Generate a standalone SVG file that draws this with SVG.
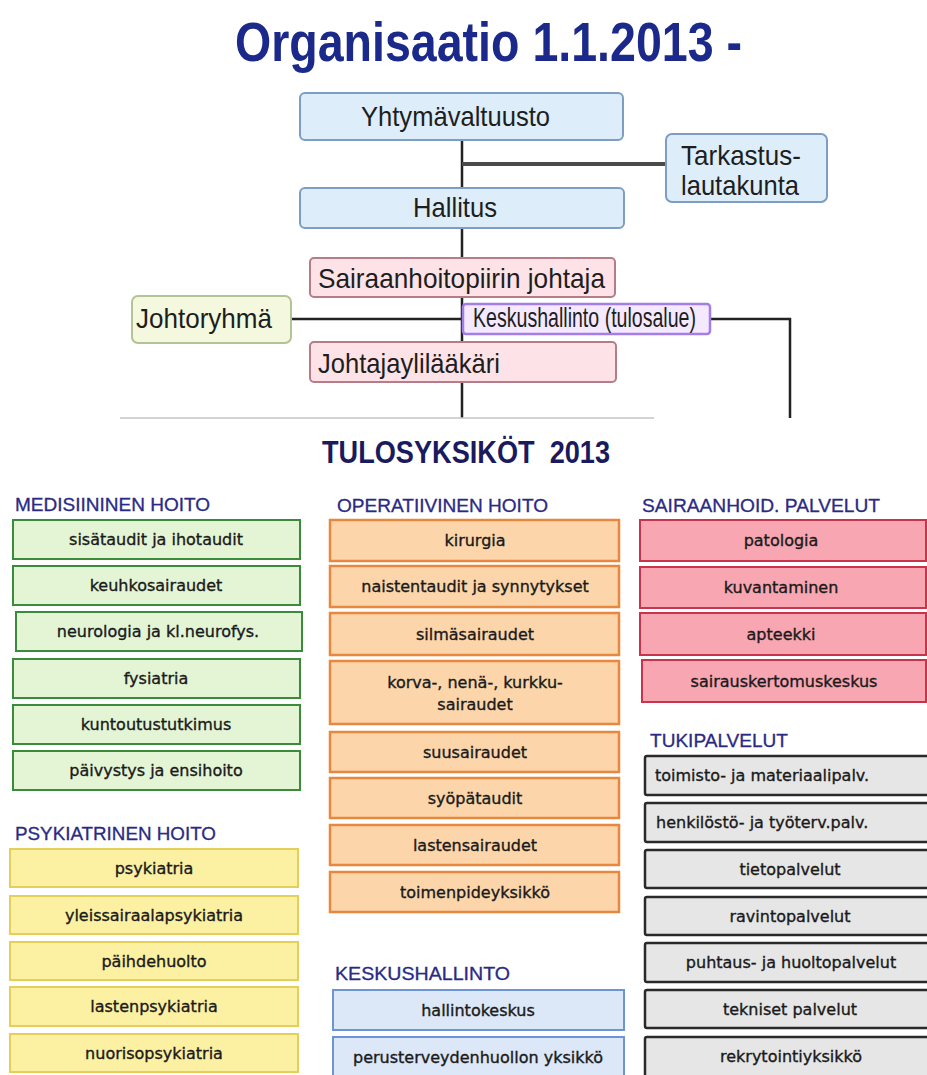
<svg xmlns="http://www.w3.org/2000/svg" width="927" height="1075" viewBox="0 0 927 1075">
<style>
.top{font-family:"Liberation Sans",Arial,sans-serif;font-size:28px;fill:#1e1e1e}
.hdr{font-family:"Liberation Sans",Arial,sans-serif;font-size:18px;fill:#2a2a84;stroke:#2a2a84;stroke-width:0.3}
.lbl{font-family:"DejaVu Sans",Verdana,sans-serif;font-size:16px;fill:#1a1a1a;stroke:#1a1a1a;stroke-width:0.35;text-anchor:middle}
.lbll{font-family:"DejaVu Sans",Verdana,sans-serif;font-size:16px;fill:#1a1a1a;stroke:#1a1a1a;stroke-width:0.35}
.bl{fill:#ddeefa;stroke:#7d9dc2;stroke-width:2}
.pk{fill:#fde3e7;stroke:#b67c88;stroke-width:2}
.gy{fill:#f3f8de;stroke:#b3c396;stroke-width:2}
.pu{fill:#f4e9ff;stroke:#a37ee6;stroke-width:2.5}
.g{fill:#e4f5d6;stroke:#3a8c3a;stroke-width:2}
.y{fill:#fcf0a2;stroke:#e5cf5a;stroke-width:2}
.o{fill:#fcd6aa;stroke:#e8873e;stroke-width:2.5}
.b{fill:#dce7f7;stroke:#6d95d6;stroke-width:2}
.r{fill:#f8a6b1;stroke:#c8334d;stroke-width:2}
.k{fill:#e6e6e6;stroke:#2a2a2a;stroke-width:2.5}
.ln{stroke:#222;stroke-width:2.5;fill:none}
.ttl{font-family:"Liberation Sans",Arial,sans-serif;font-weight:bold}
</style>
<rect width="927" height="1075" fill="#ffffff"/>
<text class="ttl" x="235" y="61" font-size="56" fill="#1b2a8a" textLength="507" lengthAdjust="spacingAndGlyphs">Organisaatio 1.1.2013 -</text>

<g id="connectors">
<line class="ln" x1="462" y1="140" x2="462" y2="418"/>
<line x1="462" y1="164" x2="666" y2="164" stroke="#4a4a4a" stroke-width="4"/>
<line class="ln" x1="291" y1="319" x2="462" y2="319"/>
<polyline class="ln" points="710,319 790,319 790,418"/>
<line x1="120" y1="418" x2="654" y2="418" stroke="#c4c4c4" stroke-width="1.5"/>
</g>

<g id="yhtymavaltuusto"><rect class="bl" x="300" y="93" width="323" height="47" rx="5"/><text class="top" x="361" y="126" textLength="189" lengthAdjust="spacingAndGlyphs">Yhtymävaltuusto</text></g>
<g id="tarkastuslautakunta"><rect class="bl" x="666" y="134" width="161" height="68" rx="6"/><text class="top" x="681" y="165" textLength="120" lengthAdjust="spacingAndGlyphs">Tarkastus-</text><text class="top" x="681" y="195" textLength="118" lengthAdjust="spacingAndGlyphs">lautakunta</text></g>
<g id="hallitus"><rect class="bl" x="300" y="188" width="324" height="40" rx="5"/><text class="top" x="413" y="217" textLength="84" lengthAdjust="spacingAndGlyphs">Hallitus</text></g>
<g id="sairaanhoitopiirin-johtaja"><rect class="pk" x="310" y="258" width="305" height="39" rx="4"/><text class="top" x="318" y="288" textLength="287" lengthAdjust="spacingAndGlyphs">Sairaanhoitopiirin johtaja</text></g>
<g id="johtoryhma"><rect class="gy" x="132" y="296" width="159" height="47" rx="6"/><text class="top" x="136" y="328" textLength="136" lengthAdjust="spacingAndGlyphs">Johtoryhmä</text></g>
<g id="keskushallinto-tulosalue"><rect class="pu" x="463" y="304" width="247" height="30" rx="3"/><text class="top" x="473" y="327" font-size="20" textLength="223" lengthAdjust="spacingAndGlyphs">Keskushallinto (tulosalue)</text></g>
<g id="johtajaylilaakari"><rect class="pk" x="310" y="342" width="306" height="40" rx="4"/><text class="top" x="318" y="373" textLength="182" lengthAdjust="spacingAndGlyphs">Johtajaylilääkäri</text></g>

<text class="ttl" x="322" y="463" font-size="31" fill="#1a1a5e" textLength="288" lengthAdjust="spacingAndGlyphs" xml:space="preserve">TULOSYKSIKÖT  2013</text>

<g id="medisiininen-hoito">
<text class="hdr" x="15" y="511" textLength="195" lengthAdjust="spacingAndGlyphs">MEDISIININEN HOITO</text>
<rect class="g" x="13" y="520" width="287" height="39"/><text class="lbl" x="156" y="545">sisätaudit ja ihotaudit</text>
<rect class="g" x="13" y="566" width="287" height="39"/><text class="lbl" x="156" y="591">keuhkosairaudet</text>
<rect class="g" x="16" y="612" width="286" height="39"/><text class="lbl" x="158" y="637">neurologia ja kl.neurofys.</text>
<rect class="g" x="13" y="659" width="287" height="39"/><text class="lbl" x="156" y="684">fysiatria</text>
<rect class="g" x="13" y="705" width="287" height="39"/><text class="lbl" x="156" y="730">kuntoutustutkimus</text>
<rect class="g" x="13" y="751" width="287" height="39"/><text class="lbl" x="156" y="776">päivystys ja ensihoito</text>
</g>

<g id="psykiatrinen-hoito">
<text class="hdr" x="15" y="840" textLength="201" lengthAdjust="spacingAndGlyphs">PSYKIATRINEN HOITO</text>
<rect class="y" x="10" y="849" width="288" height="38"/><text class="lbl" x="154" y="874">psykiatria</text>
<rect class="y" x="10" y="896" width="288" height="38"/><text class="lbl" x="154" y="921">yleissairaalapsykiatria</text>
<rect class="y" x="10" y="942" width="288" height="38"/><text class="lbl" x="154" y="967">päihdehuolto</text>
<rect class="y" x="10" y="987" width="288" height="39"/><text class="lbl" x="154" y="1012">lastenpsykiatria</text>
<rect class="y" x="10" y="1034" width="288" height="38"/><text class="lbl" x="154" y="1059">nuorisopsykiatria</text>
</g>

<g id="operatiivinen-hoito">
<text class="hdr" x="337" y="512" textLength="211" lengthAdjust="spacingAndGlyphs">OPERATIIVINEN HOITO</text>
<rect class="o" x="330" y="520" width="289" height="41"/><text class="lbl" x="475" y="546">kirurgia</text>
<rect class="o" x="330" y="566" width="289" height="41"/><text class="lbl" x="475" y="592">naistentaudit ja synnytykset</text>
<rect class="o" x="330" y="613" width="289" height="42"/><text class="lbl" x="475" y="640">silmäsairaudet</text>
<rect class="o" x="330" y="661" width="289" height="63"/><text class="lbl" x="475" y="688">korva-, nenä-, kurkku-</text><text class="lbl" x="475" y="710">sairaudet</text>
<rect class="o" x="330" y="732" width="289" height="40"/><text class="lbl" x="475" y="758">suusairaudet</text>
<rect class="o" x="330" y="778" width="289" height="40"/><text class="lbl" x="475" y="804">syöpätaudit</text>
<rect class="o" x="330" y="825" width="289" height="40"/><text class="lbl" x="475" y="851">lastensairaudet</text>
<rect class="o" x="330" y="872" width="289" height="40"/><text class="lbl" x="475" y="898">toimenpideyksikkö</text>
</g>

<g id="keskushallinto">
<text class="hdr" x="335" y="980" textLength="175" lengthAdjust="spacingAndGlyphs">KESKUSHALLINTO</text>
<rect class="b" x="333" y="990" width="291" height="40"/><text class="lbl" x="478" y="1016">hallintokeskus</text>
<rect class="b" x="333" y="1037" width="291" height="42"/><text class="lbl" x="478" y="1063">perusterveydenhuollon yksikkö</text>
</g>

<g id="sairaanhoid-palvelut">
<text class="hdr" x="642" y="512" textLength="238" lengthAdjust="spacingAndGlyphs">SAIRAANHOID. PALVELUT</text>
<rect class="r" x="640" y="520" width="286" height="41"/><text class="lbl" x="781" y="546">patologia</text>
<rect class="r" x="640" y="567" width="286" height="41"/><text class="lbl" x="781" y="593">kuvantaminen</text>
<rect class="r" x="640" y="613" width="286" height="42"/><text class="lbl" x="781" y="640">apteekki</text>
<rect class="r" x="642" y="660" width="284" height="42"/><text class="lbl" x="784" y="687">sairauskertomuskeskus</text>
</g>

<g id="tukipalvelut">
<text class="hdr" x="650" y="747" textLength="138" lengthAdjust="spacingAndGlyphs">TUKIPALVELUT</text>
<rect class="k" x="645" y="756" width="295" height="39" rx="2"/><text class="lbll" x="655" y="781">toimisto- ja materiaalipalv.</text>
<rect class="k" x="645" y="803" width="295" height="39" rx="2"/><text class="lbll" x="656" y="828">henkilöstö- ja työterv.palv.</text>
<rect class="k" x="645" y="850" width="295" height="38" rx="2"/><text class="lbl" x="790" y="875">tietopalvelut</text>
<rect class="k" x="645" y="897" width="295" height="38" rx="2"/><text class="lbl" x="790" y="922">ravintopalvelut</text>
<rect class="k" x="645" y="943" width="295" height="39" rx="2"/><text class="lbl" x="791" y="968">puhtaus- ja huoltopalvelut</text>
<rect class="k" x="645" y="990" width="295" height="38" rx="2"/><text class="lbl" x="790" y="1015">tekniset palvelut</text>
<rect class="k" x="645" y="1037" width="295" height="40" rx="2"/><text class="lbl" x="791" y="1062">rekrytointiyksikkö</text>
</g>
</svg>
